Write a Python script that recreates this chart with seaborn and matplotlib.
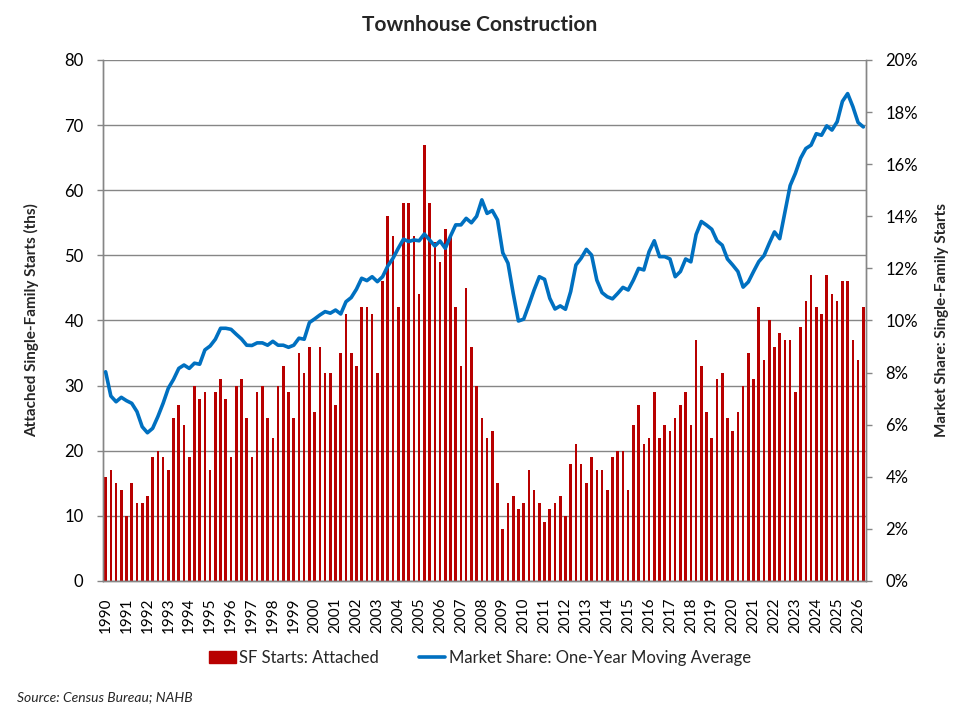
import numpy as np
import pandas as pd
import seaborn as sns
import matplotlib.pyplot as plt
from matplotlib.patches import Patch
from matplotlib.lines import Line2D
from matplotlib.ticker import FuncFormatter, MultipleLocator

# Quarterly data, 1990Q1 - 2026Q2
years = list(range(1990, 2027))

sf_attached = [
    16, 17, 15, 14, 10, 15, 12, 12, 13, 19, 20, 19, 17, 25, 27, 24,
    19, 30, 28, 29, 17, 29, 31, 28, 19, 30, 31, 25, 19, 29, 30, 25,
    22, 30, 33, 29, 25, 35, 32, 36, 26, 36, 32, 32, 27, 35, 41, 35,
    33, 42, 42, 41, 32, 46, 56, 53, 42, 58, 58, 53, 44, 67, 58, 52,
    49, 54, 53, 42, 33, 45, 36, 30, 25, 22, 23, 15, 8, 12, 13, 11,
    12, 17, 14, 12, 9, 11, 12, 13, 10, 18, 21, 18, 15, 19, 17, 17,
    14, 19, 20, 20, 14, 24, 27, 21, 22, 29, 22, 24, 23, 25, 27, 29,
    24, 37, 33, 26, 22, 31, 32, 25, 23, 26, 30, 35, 31, 42, 34, 40,
    36, 38, 37, 37, 29, 39, 43, 47, 42, 41, 47, 44, 43, 46, 46, 37,
    34, 42,
]

market_share = [
    8.03, 7.10, 6.88, 7.05, 6.92, 6.82, 6.50, 5.92, 5.69, 5.86, 6.31, 6.82,
    7.40, 7.74, 8.16, 8.29, 8.16, 8.36, 8.32, 8.87, 9.02, 9.28, 9.70, 9.70,
    9.66, 9.47, 9.29, 9.05, 9.04, 9.14, 9.14, 9.05, 9.20, 9.05, 9.05, 8.97,
    9.05, 9.32, 9.28, 9.92, 10.06, 10.21, 10.34, 10.28, 10.40, 10.25, 10.72, 10.88,
    11.20, 11.62, 11.53, 11.68, 11.49, 11.68, 12.09, 12.39, 12.77, 13.12, 13.03, 13.09,
    13.06, 13.32, 13.09, 12.86, 13.05, 12.77, 13.24, 13.67, 13.67, 13.92, 13.75, 14.00,
    14.63, 14.11, 14.22, 13.86, 12.60, 12.20, 11.04, 9.98, 10.05, 10.60, 11.17, 11.68,
    11.58, 10.85, 10.44, 10.56, 10.43, 11.11, 12.13, 12.39, 12.73, 12.51, 11.55, 11.07,
    10.91, 10.83, 11.04, 11.27, 11.17, 11.55, 12.00, 11.94, 12.64, 13.06, 12.45, 12.45,
    12.36, 11.68, 11.88, 12.36, 12.25, 13.30, 13.80, 13.66, 13.50, 13.06, 12.89, 12.36,
    12.13, 11.88, 11.28, 11.48, 11.88, 12.26, 12.49, 12.96, 13.40, 13.14, 14.17, 15.18,
    15.65, 16.23, 16.60, 16.73, 17.17, 17.11, 17.47, 17.31, 17.63, 18.41, 18.71, 18.21,
    17.60, 17.43,
]

BAR_COLOR = '#B80000'
LINE_COLOR = '#0070C0'
GRID_COLOR = '#868686'

df = pd.DataFrame({
    'q': np.arange(len(sf_attached)),
    'attached': sf_attached,
    'share': market_share,
})

sns.set_theme(style='white')
plt.rcParams['font.family'] = ['Lato', 'DejaVu Sans']

fig = plt.figure(figsize=(9.6, 7.2), dpi=100)
ax = fig.add_axes([0.1073, 0.1931, 0.7947, 0.7236])

# Bars on the left axis
sns.barplot(data=df, x='q', y='attached', color=BAR_COLOR, width=0.5,
            saturation=1, linewidth=0, ax=ax, zorder=2)
for bar in ax.patches:
    bar.set_antialiased(False)   # thin bars fade out otherwise
ax.set_ylim(0, 80)
ax.set_xlim(-0.5, len(df) - 0.5)
ax.yaxis.set_major_locator(MultipleLocator(10))
ax.grid(axis='y', color=GRID_COLOR, linewidth=1, zorder=0)
ax.set_axisbelow(True)

# Market share line on the right axis
ax2 = ax.twinx()
sns.lineplot(data=df, x='q', y='share', color=LINE_COLOR, linewidth=2.6,
             ax=ax2, zorder=3)
ax2.set_ylim(0, 20)
ax2.set_xlim(-0.5, len(df) - 0.5)
ax2.yaxis.set_major_locator(MultipleLocator(2))
ax2.yaxis.set_major_formatter(FuncFormatter(lambda v, _: f'{v:.0f}%'))

# Category ticks: every quarter gets a tick, every year a label
ax.set_xticks(df['q'])
labels = [''] * len(df)
for i, yr in enumerate(years):
    if i * 4 < len(df):
        labels[i * 4] = str(yr)
ax.set_xticklabels(labels, rotation=90, fontsize=11)

for a in (ax, ax2):
    a.spines['top'].set_visible(False)
    for side in ('left', 'right', 'bottom'):
        a.spines[side].set_color(GRID_COLOR)
        a.spines[side].set_linewidth(1)
    a.tick_params(axis='both', direction='out', length=4, width=1,
                  color=GRID_COLOR, labelcolor='black')
ax.tick_params(axis='x', length=3, pad=9)
ax.tick_params(axis='y', labelsize=12, pad=10)
ax2.tick_params(axis='y', labelsize=12, pad=10)

ax.set_xlabel('')
ax.set_ylabel('Attached Single-Family Starts (ths)', fontsize=11,
              fontweight='bold', labelpad=18)
ax2.set_ylabel('Market Share: Single-Family Starts', fontsize=11,
               fontweight='bold', labelpad=12)

fig.text(0.5, 0.965, 'Townhouse Construction', ha='center', va='center',
         fontsize=15, fontweight='bold')

handles = [
    Patch(color=BAR_COLOR, label='SF Starts: Attached'),
    Line2D([0], [0], color=LINE_COLOR, linewidth=2.6,
           label='Market Share: One-Year Moving Average'),
]
fig.legend(handles=handles, loc='center', bbox_to_anchor=(0.5, 0.086),
           ncol=2, frameon=False, fontsize=12, handlelength=1.6,
           handletextpad=0.2, columnspacing=2.4)

fig.text(0.018, 0.026, 'Source: Census Bureau; NAHB', fontsize=10,
         fontstyle='italic')

fig.savefig('out.png', dpi=100)
